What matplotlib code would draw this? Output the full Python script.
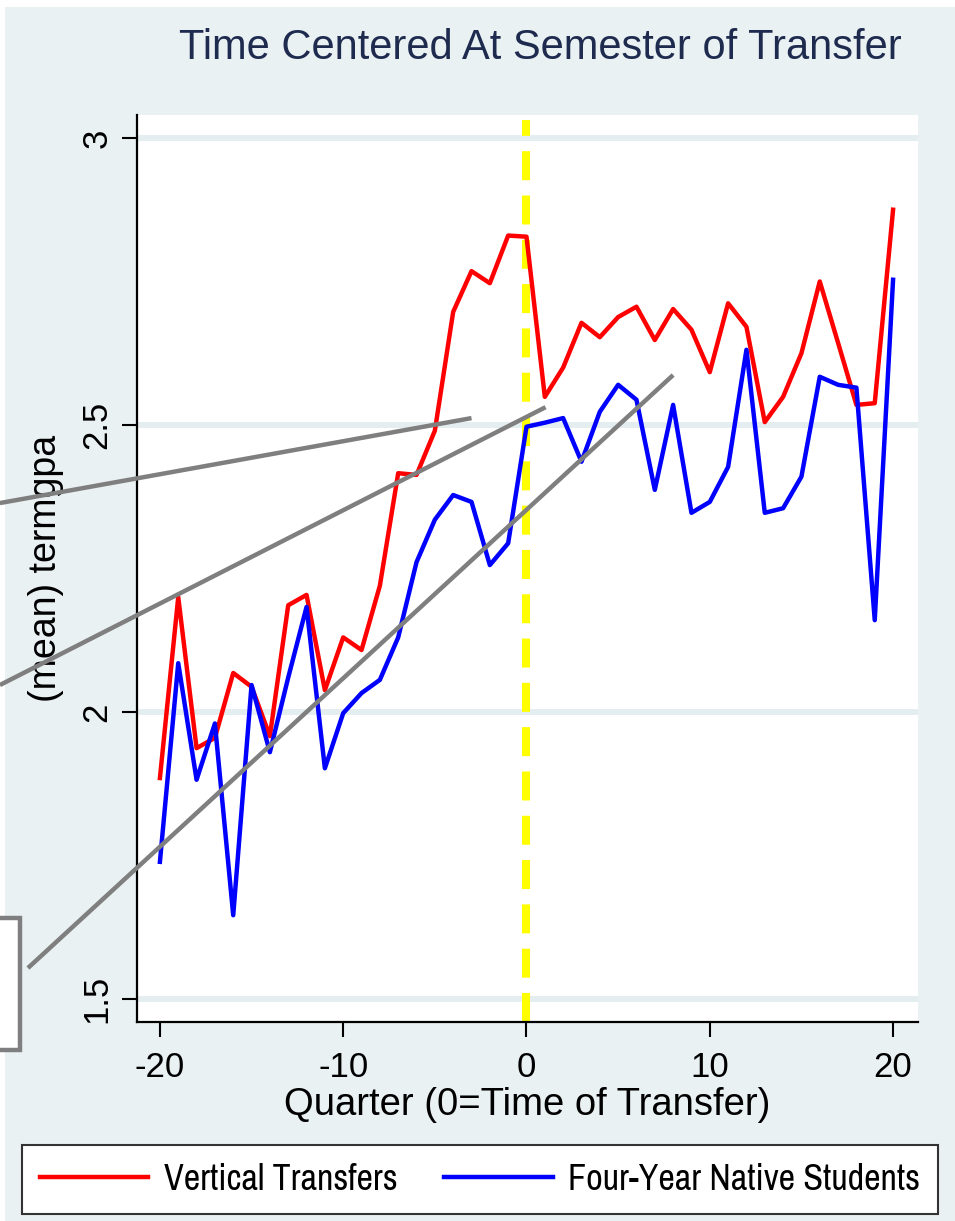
import matplotlib
matplotlib.use("Agg")
import matplotlib.pyplot as plt
from matplotlib.patches import Rectangle

plt.rcParams["font.family"] = ["Liberation Sans", "DejaVu Sans"]

BG = "#eaf1f3"
GRID = "#e4edef"

quarters = list(range(-20, 21))
vertical_transfers = [
    1.885, 2.20, 1.937, 1.955, 2.068, 2.044, 1.958, 2.186, 2.204, 2.038,
    2.130, 2.108, 2.220, 2.416, 2.413, 2.490, 2.697, 2.768, 2.747, 2.830,
    2.828, 2.549, 2.600, 2.678, 2.653, 2.688, 2.706, 2.648, 2.702, 2.666,
    2.592, 2.712, 2.671, 2.505, 2.549, 2.625, 2.750, 2.643, 2.535, 2.538,
    2.875,
]
native_students = [
    1.739, 2.085, 1.882, 1.980, 1.646, 2.047, 1.930, 2.060, 2.183, 1.902,
    1.998, 2.033, 2.056, 2.130, 2.261, 2.335, 2.378, 2.366, 2.256, 2.294,
    2.497, 2.504, 2.512, 2.436, 2.523, 2.570, 2.544, 2.387, 2.535, 2.347,
    2.366, 2.427, 2.631, 2.347, 2.355, 2.410, 2.584, 2.570, 2.565, 2.160,
    2.753,
]
series_labels = ["Vertical Transfers", "Four-Year Native Students"]

# callout lines pasted over the graph (start off to the left, end on a quarter)
callouts = [((-28.73, 2.364), (-3.0, 2.512)),
            ((-28.73, 2.047), (1.04, 2.531)),
            ((-27.2, 1.554), (8.0, 2.587))]

fig = plt.figure(figsize=(9.55, 12.21), dpi=100, facecolor="white")
fig.add_artist(Rectangle((5 / 955, 0), 950 / 955, 1 - 7 / 1221,
                         transform=fig.transFigure, facecolor=BG,
                         edgecolor="none", zorder=-10))

ax = fig.add_axes([137 / 955, 1 - 1022 / 1221, 781 / 955, 907 / 1221])
ax.set_facecolor("white")
ax.set_xlim(-21.25, 21.36)
ax.set_ylim(1.46, 3.04)

for yv in [1.5, 2, 2.5, 3]:
    ax.axhline(yv, color=GRID, lw=4.3, zorder=0)

ax.plot(quarters, vertical_transfers, color="#ff0000", lw=3.2, label=series_labels[0], zorder=3)
ax.plot(quarters, native_students, color="#0000ff", lw=3.2, label=series_labels[1], zorder=3)
ax.axvline(0, ymax=0.995, color="#ffff00", lw=5.8, dashes=(3.6, 1.9), zorder=2)

for (x0, y0), (x1, y1) in callouts:
    ax.plot([x0, x1], [y0, y1], color="#7f7f7f", lw=3.2, clip_on=False, zorder=5,
            solid_capstyle="butt")
ax.add_patch(Rectangle((-40, 1.411), 40 - 27.64, 1.641 - 1.411, facecolor="white",
                       edgecolor="#7f7f7f", lw=3.2, clip_on=False, zorder=5))

for side in ["top", "right"]:
    ax.spines[side].set_visible(False)
for side in ["left", "bottom"]:
    ax.spines[side].set_linewidth(1.6)
    ax.spines[side].set_color("black")

ax.set_xticks([-20, -10, 0, 10, 20])
ax.set_xticklabels(["-20", "-10", "0", "10", "20"])
ax.set_yticks([1.5, 2, 2.5, 3])
ax.set_yticklabels(["1.5", "2", "2.5", "3"], rotation=90, va="center")
ax.tick_params(axis="both", length=11, width=1.5, labelsize=25)
ax.tick_params(axis="x", pad=10)
ax.tick_params(axis="y", pad=6)

ax.set_xlabel("Quarter (0=Time of Transfer)", fontsize=27.5)
ax.xaxis.set_label_coords(0.5, -0.072)
ax.set_ylabel("(mean) termgpa", fontsize=27)
ax.yaxis.set_label_coords(-0.093, 0.5)

fig.text(540 / 955, 1 - 59 / 1221, "Time Centered At Semester of Transfer",
         fontsize=30, color="#1e2b4f", ha="center", va="baseline")

# legend text in the original is horizontally squeezed
leg = fig.legend(loc="lower left", ncol=2, mode="expand",
                 bbox_to_anchor=(22 / 955, 1 - 1214 / 1221, 916 / 955, 66 / 1221),
                 prop={"family": ["Archivo Narrow", "Liberation Sans"], "size": 26},
                 handlelength=3.0, handletextpad=0.42,
                 borderpad=0.5, borderaxespad=0, fancybox=False,
                 framealpha=1, edgecolor="#333333")
leg.get_frame().set_linewidth(1.5)

fig.savefig("out.png", dpi=100, facecolor=fig.get_facecolor())
